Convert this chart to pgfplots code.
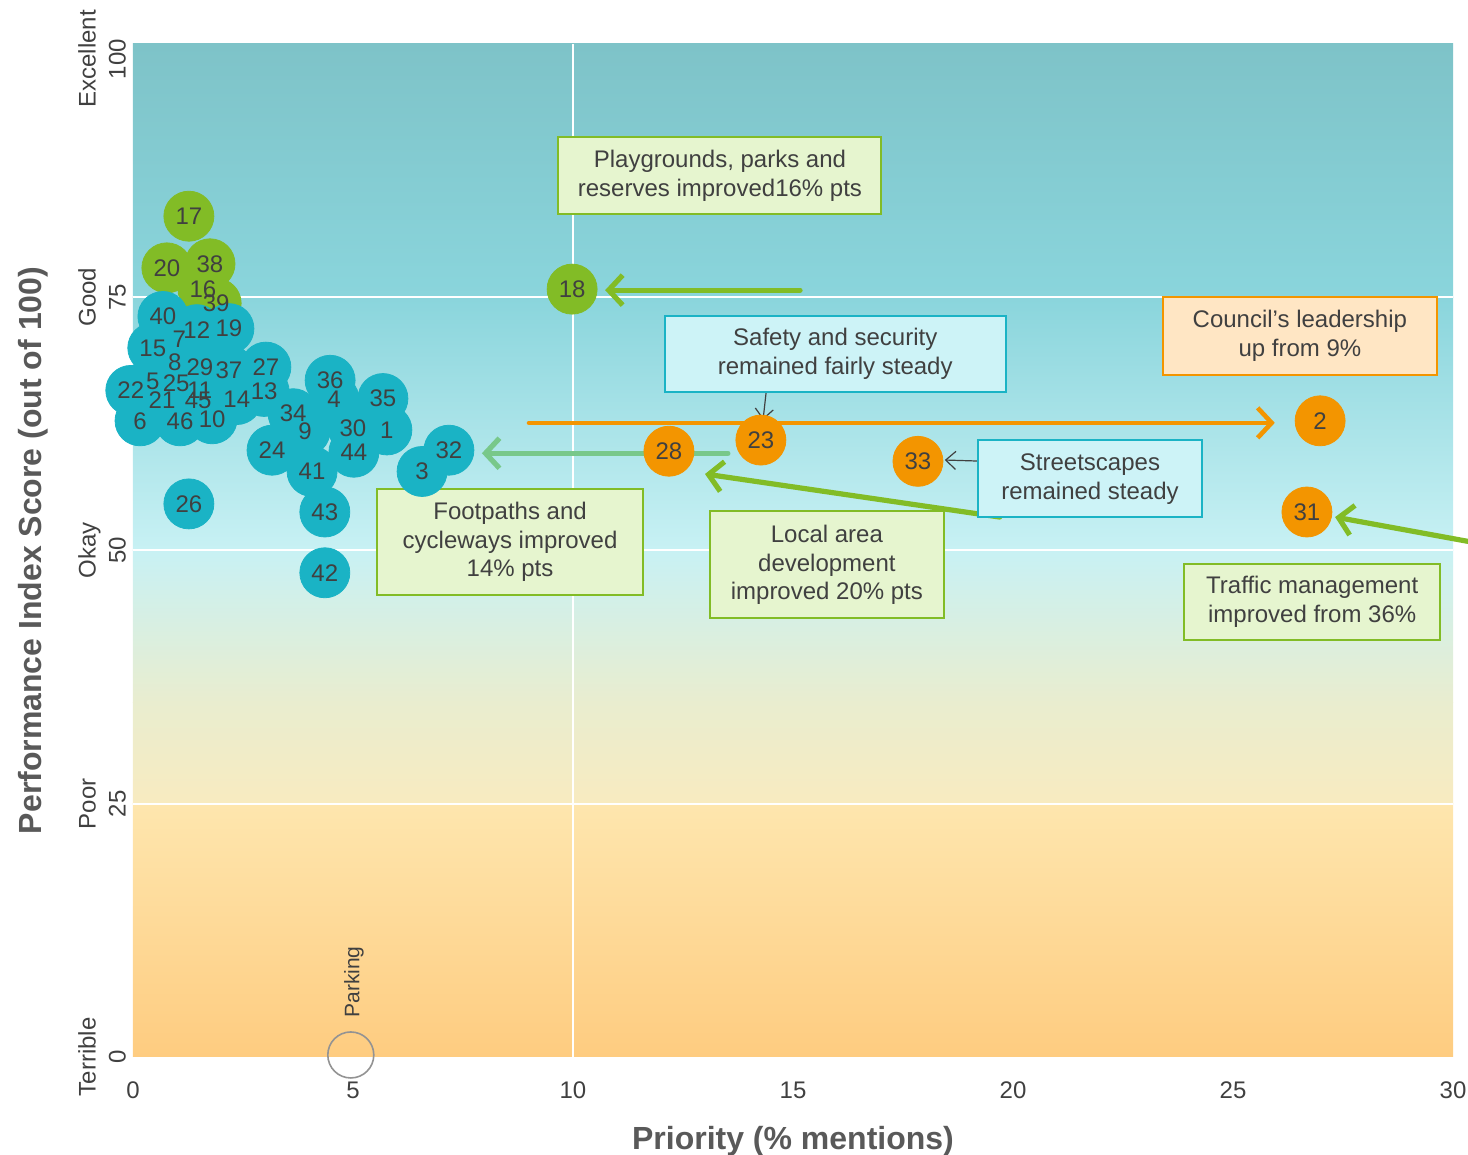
\documentclass[border=0pt]{standalone}
\usepackage{pgfplots}
\pgfplotsset{compat=1.18}
\usepackage{pgfplotstable}
\usepackage{fontspec}
\setmainfont{Liberation Sans}
\usetikzlibrary{arrows.meta}

\definecolor{tealc}{HTML}{1AB3C5}
\definecolor{grn}{HTML}{82BC26}
\definecolor{org}{HTML}{F39500}
\definecolor{lgrn}{HTML}{78C88A}
\definecolor{txt}{HTML}{404040}
\definecolor{lbl}{HTML}{595959}
\definecolor{gfill}{HTML}{E6F5CF}
\definecolor{cfill}{HTML}{CDF3F7}
\definecolor{ofill}{HTML}{FFE6C4}
\definecolor{gA}{HTML}{7EC3C8}
\definecolor{gB}{HTML}{8AD5DC}
\definecolor{gC}{HTML}{C8F1F4}
\definecolor{gD}{HTML}{E9EDCF}
\definecolor{gE}{HTML}{F8EBC0}
\definecolor{gF}{HTML}{FEE6AE}
\definecolor{gG}{HTML}{FECC80}

% green items
\pgfplotstableread{
lab x y
17 1.27 83.0
20 0.77 77.9
38 1.75 78.3
16 1.59 75.8
39 1.89 74.4
18 9.98 75.8
}\greendata

% teal items
\pgfplotstableread{
lab x y
40 0.68 73.1
12 1.45 71.8
19 2.18 71.9
7 1.05 70.9
15 0.45 70.0
8 0.95 68.6
29 1.52 68.1
37 2.18 67.8
27 3.02 68.1
5 0.45 66.7
25 0.98 66.5
22 -0.05 65.8
11 1.52 65.8
13 2.98 65.7
21 0.66 64.8
45 1.48 64.8
14 2.36 64.9
6 0.16 62.8
46 1.07 62.8
10 1.80 63.0
36 4.48 66.8
4 4.57 64.9
35 5.68 65.0
34 3.64 63.5
9 3.91 61.8
30 5.00 62.1
1 5.77 61.9
24 3.16 59.9
44 5.02 59.7
32 7.18 59.9
41 4.07 57.8
3 6.57 57.8
26 1.27 54.6
43 4.36 53.8
42 4.36 47.8
}\tealdata

% orange items
\pgfplotstableread{
lab x y
28 12.18 59.8
23 14.27 60.9
33 17.84 58.8
2 26.98 62.8
31 26.68 53.8
}\orangedata

\tikzset{
  box/.style={draw, line width=1pt, align=center, inner sep=0pt, text=txt,
    font=\fontsize{12}{14.4}\selectfont},
  garrow/.style={line width=2.6pt, line cap=round, -{Straight Barb[length=7pt,width=15pt,line width=2.6pt]}},
}

\begin{document}
\begin{tikzpicture}
\begin{axis}[
  name=ax,
  scale only axis,
  width=660pt, height=506.5pt,
  xmin=0, xmax=30, ymin=0, ymax=100,
  clip=false,
  axis line style={draw=none},
  tick style={draw=none},
  xtick={0,5,...,30},
  ytick={0,25,50,75},
  yticklabels={{Terrible\\[1pt]0},{Poor\\[1pt]25},{Okay\\[1pt]50},{Good\\[1pt]75}},
  extra y ticks={100},
  extra y tick labels={{Excellent\\[1pt]100}},
  extra y tick style={yticklabel style={xshift=-7.5pt}},
  /pgf/number format/assume math mode=true,
  ticklabel style={font=\fontsize{12}{14}\selectfont, text=txt},
  xticklabel style={yshift=-9pt},
  yticklabel style={rotate=90, anchor=south, align=center},
  xlabel={Priority (\% mentions)},
  ylabel={Performance Index Score (out of 100)},
  label style={font=\bfseries\fontsize{16}{18}\selectfont, text=lbl},
  xlabel style={at={(axis description cs:0.5,-0.083)}, anchor=center},
  ylabel style={at={(axis description cs:-0.0758,0.5)}, anchor=center},
  every node near coord/.style={anchor=center, inner sep=0pt, text=txt,
    font=\fontsize{12}{12}\selectfont},
  bubble/.style={only marks, mark=*, mark size=12.5pt, mark options={draw=#1, fill=#1}, color=#1},
  labels/.style={draw=none, mark=none, nodes near coords, point meta=explicit symbolic},
]
% background bands
\shade[bottom color=gB, top color=gA, draw=none] (axis cs:0,75) rectangle (axis cs:30,100);
\shade[bottom color=gC, top color=gB, draw=none] (axis cs:0,50) rectangle (axis cs:30,75);
\shade[bottom color=gD, top color=gC, draw=none] (axis cs:0,35) rectangle (axis cs:30,50);
\shade[bottom color=gE, top color=gD, draw=none] (axis cs:0,25) rectangle (axis cs:30,35);
\shade[bottom color=gG, top color=gF, draw=none] (axis cs:0,0) rectangle (axis cs:30,25);
% white grid
\draw[white, line width=1pt] (axis cs:0,25) -- (axis cs:30,25);
\draw[white, line width=1pt] (axis cs:0,50) -- (axis cs:30,50);
\draw[white, line width=1pt] (axis cs:0,75) -- (axis cs:30,75);
\draw[white, line width=1pt] (axis cs:10,0) -- (axis cs:10,100);

% arrows (under the bubbles)
\draw[garrow, grn] (axis cs:15.16,75.7) -- (axis cs:10.73,75.7);
\draw[garrow, org, line width=2.3pt, -{Straight Barb[length=7pt,width=15pt,line width=2.3pt]}] (axis cs:9.0,62.6) -- (axis cs:25.95,62.6);
\draw[garrow, lgrn] (axis cs:13.52,59.6) -- (axis cs:7.93,59.6);
\draw[garrow, grn] (axis cs:19.70,53.3) -- (axis cs:13.0,57.55);
\draw[garrow, grn] (axis cs:30.34,50.9) -- (axis cs:27.32,53.3);

% bubbles
\addplot[bubble=grn] table[x=x, y=y] {\greendata};
\begin{scope}
\clip (axis cs:0,0) rectangle (axis cs:30,100);
\addplot[bubble=tealc] table[x=x, y=y] {\tealdata};
\end{scope}
\addplot[bubble=org] table[x=x, y=y] {\orangedata};
\addplot[only marks, mark=o, mark size=11.5pt, mark options={draw=gray!85, line width=0.8pt}]
  coordinates {(4.95,0.2)};

% bubble labels on top
\addplot[labels] table[x=x, y=y, meta=lab] {\greendata};
\addplot[labels] table[x=x, y=y, meta=lab] {\tealdata};
\addplot[labels] table[x=x, y=y, meta=lab] {\orangedata};
\node[rotate=90, anchor=west, inner sep=0pt, text=txt, font=\fontsize{10.5}{10.5}\selectfont]
  at (axis cs:5.02,3.85) {Parking};

% thin pointers
\draw[txt, line width=0.6pt, -{Straight Barb[length=5pt,width=9pt]}] (axis cs:14.39,65.65) -- (axis cs:14.32,62.9);
\draw[txt, line width=0.6pt, -{Straight Barb[length=5pt,width=9pt]}] (axis cs:19.2,58.83) -- (axis cs:18.45,58.93);

% annotation boxes
\node[box, draw=grn, fill=gfill, minimum width=161.5pt, minimum height=38.5pt]
  at (axis cs:13.34,86.97) {Playgrounds, parks and\\reserves improved16\% pts};
\node[box, draw=tealc, fill=cfill, minimum width=170.5pt, minimum height=38pt]
  at (axis cs:15.96,69.40) {Safety and security\\remained fairly steady};
\node[box, draw=org, fill=ofill, minimum width=137pt, minimum height=39pt]
  at (axis cs:26.52,71.18) {Council’s leadership\\up from 9\%};
\node[box, draw=tealc, fill=cfill, minimum width=112pt, minimum height=38.5pt]
  at (axis cs:21.75,57.06) {Streetscapes\\remained steady};
\node[box, draw=grn, fill=gfill, minimum width=133pt, minimum height=53pt]
  at (axis cs:8.57,50.84) {Footpaths and\\cycleways improved\\14\% pts};
\node[box, draw=grn, fill=gfill, minimum width=117pt, minimum height=53.5pt]
  at (axis cs:15.77,48.57) {Local area\\development\\improved 20\% pts};
\node[box, draw=grn, fill=gfill, minimum width=128pt, minimum height=38pt]
  at (axis cs:26.80,44.92) {Traffic management\\improved from 36\%};
\end{axis}
\pgfresetboundingbox
\path[use as bounding box] ([shift={(-66.5pt,-49pt)}]ax.south west) rectangle ([shift={(667.5pt,528.5pt)}]ax.south west);
\end{tikzpicture}
\end{document}
